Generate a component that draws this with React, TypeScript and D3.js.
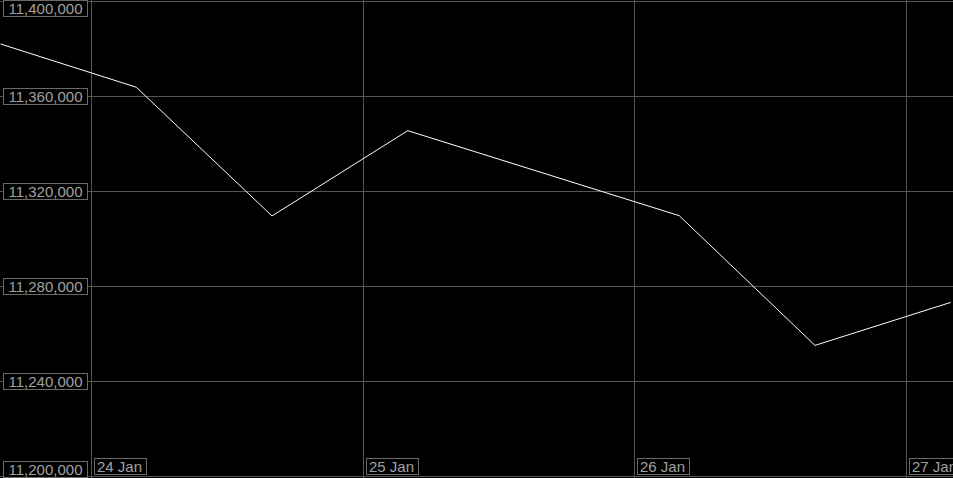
import React from 'react';
import * as d3 from 'd3';

// sample times (UTC) and values
const times = [
  Date.UTC(2024, 0, 23, 16),
  Date.UTC(2024, 0, 24, 4),
  Date.UTC(2024, 0, 24, 16),
  Date.UTC(2024, 0, 25, 4),
  Date.UTC(2024, 0, 26, 4),
  Date.UTC(2024, 0, 26, 16),
  Date.UTC(2024, 0, 27, 4),
];
const values = [11381900, 11363700, 11309500, 11345400, 11309600, 11255000, 11273100];

const yTicks = [11200000, 11240000, 11280000, 11320000, 11360000, 11400000];
const xTicks = [Date.UTC(2024, 0, 24), Date.UTC(2024, 0, 25), Date.UTC(2024, 0, 26), Date.UTC(2024, 0, 27)];
const xTickLabels = ['24 Jan', '25 Jan', '26 Jan', '27 Jan'];

const width = 953;
const height = 478;

const gridColor = '#555';
const boxColor = '#6a6a6a';
const textColor = '#a0a0a0';
const font = 'Liberation Sans, Arial, sans-serif';

export default function App() {
  const x = d3.scaleUtc()
    .domain([new Date(xTicks[0]), new Date(xTicks[3])])
    .range([91, 905.5]);
  const y = d3.scaleLinear()
    .domain([11200000, 11400000])
    .range([476, 1]);

  const line = d3.line<number>()
    .x((d, i) => x(new Date(times[i])))
    .y(d => y(d));

  const fmt = d3.format(',');
  const boxH = 16;

  return (
    <svg width={width} height={height}
      style={{ position: 'fixed', left: 0, top: 0, background: '#000', display: 'block' }}>
      <rect x={0} y={0} width={width} height={height} fill="#000" />

      {/* horizontal grid */}
      {yTicks.map(t => (
        <line key={t} x1={0} x2={width} y1={Math.round(y(t)) + 0.5} y2={Math.round(y(t)) + 0.5}
          stroke={gridColor} strokeWidth={1} />
      ))}
      {/* vertical grid */}
      {xTicks.map(t => (
        <line key={t} x1={Math.round(x(new Date(t))) + 0.5} x2={Math.round(x(new Date(t))) + 0.5}
          y1={0} y2={height} stroke={gridColor} strokeWidth={1} />
      ))}

      <path d={line(values) || ''} fill="none" stroke="#fff" strokeWidth={1} />

      {/* y labels */}
      {yTicks.map(t => {
        const cy = Math.round(y(t));
        let top = cy - boxH / 2;
        if (top < 0) top = 0;
        if (top + boxH > height - 1) top = height - 1 - boxH;
        return (
          <g key={t}>
            <rect x={3.5} y={top + 0.5} width={84} height={boxH} fill="#000" stroke={boxColor} strokeWidth={1} />
            <text x={45.5} y={top + boxH - 2} textAnchor="middle" fill={textColor}
              fontFamily={font} fontSize={15}>{fmt(t)}</text>
          </g>
        );
      })}

      {/* x labels */}
      {xTicks.map((t, i) => {
        const px = Math.round(x(new Date(t)));
        const top = 458;
        return (
          <g key={t}>
            <rect x={px + 3.5} y={top + 0.5} width={52} height={boxH} fill="#000" stroke={boxColor} strokeWidth={1} />
            <text x={px + 6} y={top + boxH - 2} fill={textColor}
              fontFamily={font} fontSize={15}>{xTickLabels[i]}</text>
          </g>
        );
      })}
    </svg>
  );
}
